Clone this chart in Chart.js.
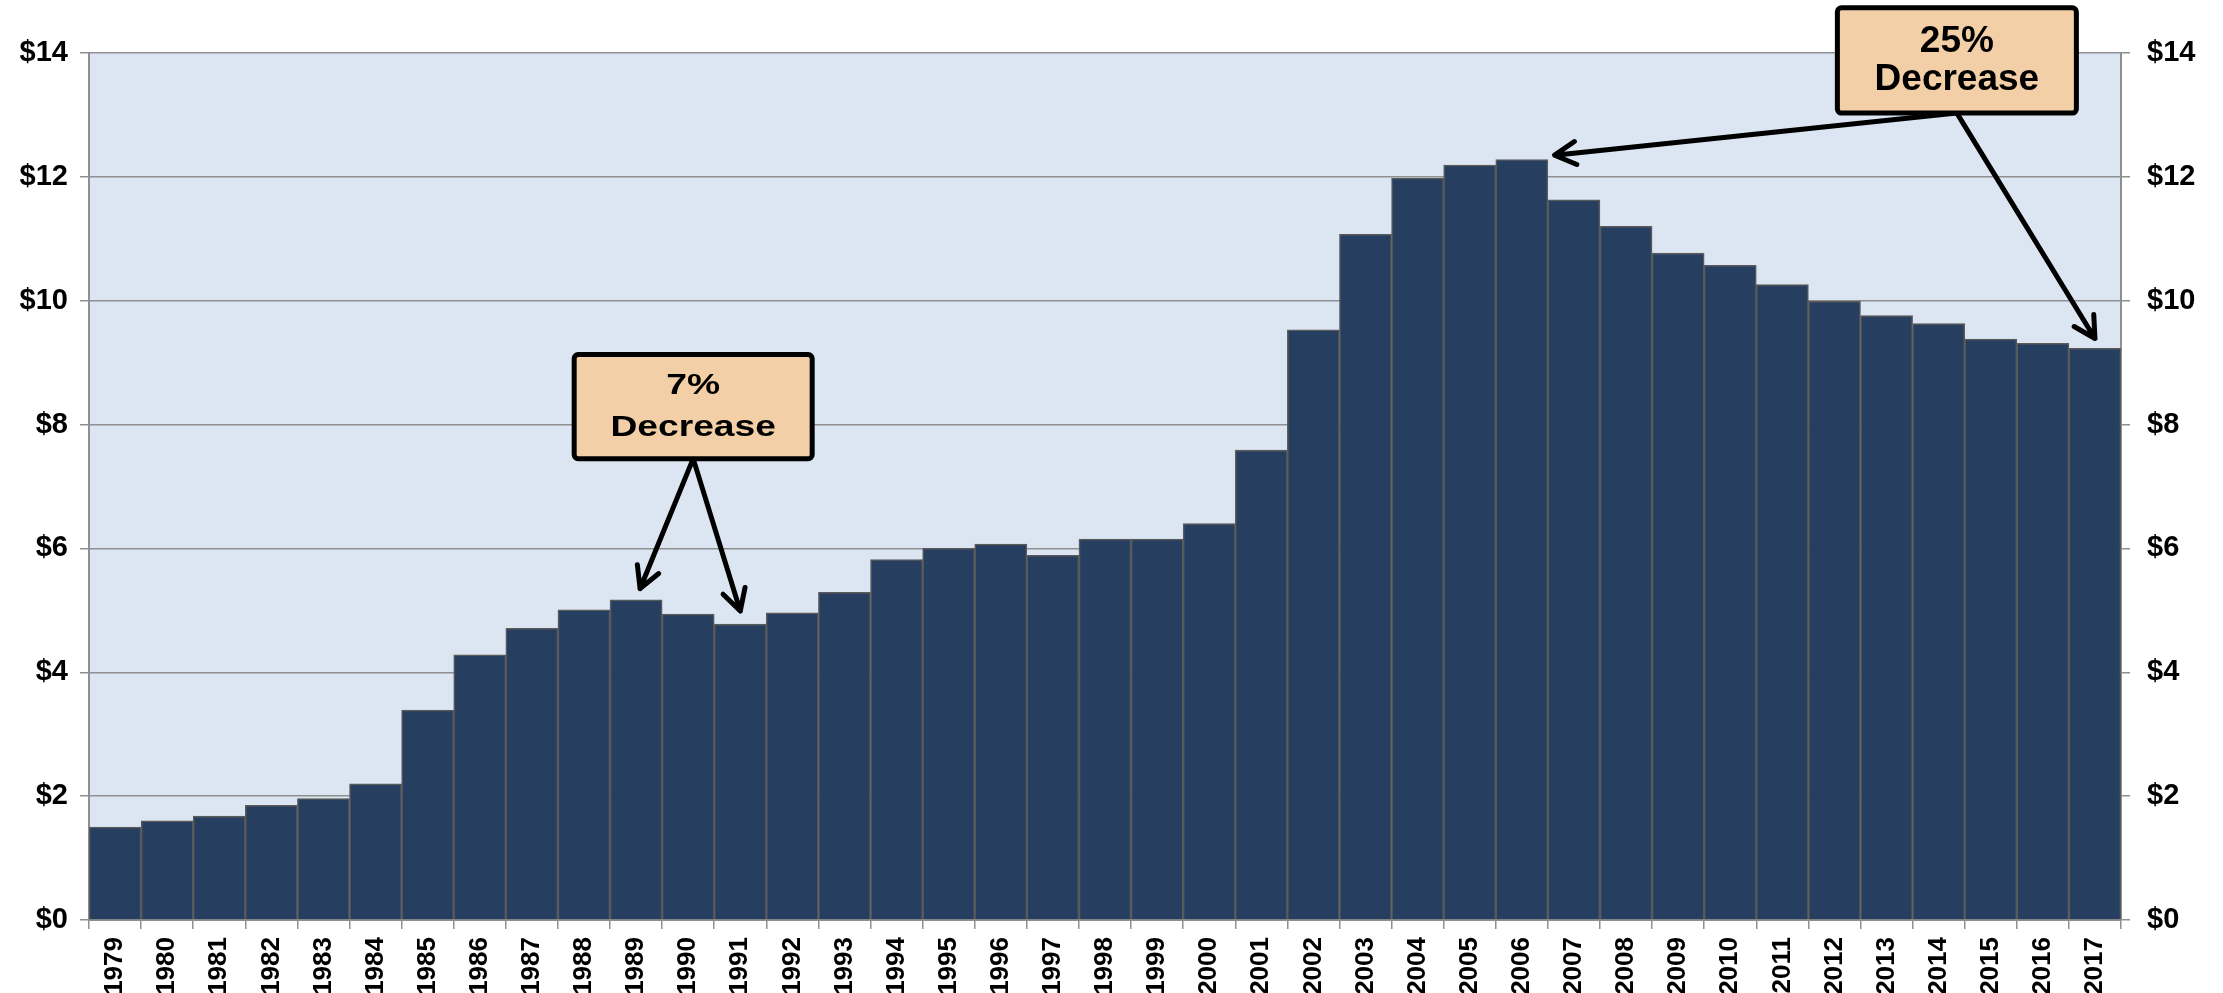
<!DOCTYPE html>
<html>
<head>
<meta charset="utf-8">
<script src="https://cdn.jsdelivr.net/npm/chart.js@4/dist/chart.umd.min.js"></script>
<style>
  html, body { margin: 0; padding: 0; background: #fff; overflow: hidden; }
  #wrap { width: 2223px; height: 993px; }
</style>
</head>
<body>
<div id="wrap"><canvas id="barChart" width="2223" height="993"></canvas></div>
<script>
const years = ['1979','1980','1981','1982','1983','1984','1985','1986','1987','1988',
    '1989','1990','1991','1992','1993','1994','1995','1996','1997','1998',
    '1999','2000','2001','2002','2003','2004','2005','2006','2007','2008',
    '2009','2010','2011','2012','2013','2014','2015','2016','2017'];

const values = [1.50, 1.60, 1.68, 1.85, 1.96, 2.20, 3.39, 4.28, 4.71, 5.01,
    5.17, 4.94, 4.78, 4.96, 5.29, 5.82, 6.00, 6.07, 5.89, 6.15,
    6.15, 6.40, 7.59, 9.53, 11.07, 11.98, 12.19, 12.28, 11.63, 11.20,
    10.77, 10.57, 10.26, 9.99, 9.76, 9.63, 9.38, 9.31, 9.23];

const yTicks = [0, 2, 4, 6, 8, 10, 12, 14];
const yTickLabels = ['$0', '$2', '$4', '$6', '$8', '$10', '$12', '$14'];

const noteSmallText = ['7%', 'Decrease'];
const noteBigText = ['25%', 'Decrease'];

const FONT = '"Liberation Sans", Arial, sans-serif';
const GRID = '#8f8f8f';

function tickLabel(value) {
    const i = yTicks.indexOf(value);
    return i >= 0 ? yTickLabels[i] : '';
}

// light blue plot background
const plotBackground = {
    id: 'plotBackground',
    beforeDraw(chart) {
        const { ctx, chartArea: a } = chart;
        ctx.save();
        ctx.fillStyle = '#dce6f2';
        ctx.fillRect(a.left, a.top, a.right - a.left, a.bottom - a.top);
        ctx.restore();
    }
};

function drawArrow(ctx, x0, y0, x1, y1) {
    const ang = Math.atan2(y1 - y0, x1 - x0);
    const head = 24;
    ctx.beginPath();
    ctx.moveTo(x0, y0);
    ctx.lineTo(x1, y1);
    ctx.moveTo(x1 - head * Math.cos(ang - 0.5), y1 - head * Math.sin(ang - 0.5));
    ctx.lineTo(x1, y1);
    ctx.lineTo(x1 - head * Math.cos(ang + 0.5), y1 - head * Math.sin(ang + 0.5));
    ctx.stroke();
}

function drawBox(ctx, cx, top, w, h, lines, fontSize, sx, lineYs) {
    ctx.fillStyle = '#f2cfa6';
    ctx.strokeStyle = '#000';
    ctx.lineWidth = 5;
    ctx.beginPath();
    ctx.roundRect(cx - w / 2, top, w, h, 4);
    ctx.fill();
    ctx.stroke();
    ctx.fillStyle = '#000';
    ctx.font = 'bold ' + fontSize + 'px ' + FONT;
    ctx.textAlign = 'center';
    ctx.textBaseline = 'middle';
    lines.forEach((t, i) => {
        ctx.save();
        ctx.translate(cx, top + lineYs[i]);
        ctx.scale(sx, 1);
        ctx.fillText(t, 0, 0);
        ctx.restore();
    });
}

const callouts = {
    id: 'callouts',
    afterDraw(chart) {
        const { ctx } = chart;
        const x = chart.scales.x;
        const y = chart.scales.y;
        ctx.save();
        ctx.lineCap = 'round';
        ctx.lineJoin = 'round';

        // 7% decrease, 1989 -> 1991
        const c1x = x.getPixelForValue(11) + 5;
        const c1top = y.getPixelForValue(9.13);
        const c1bottom = y.getPixelForValue(7.45);
        ctx.strokeStyle = '#000';
        ctx.lineWidth = 5;
        drawArrow(ctx, c1x, c1bottom, x.getPixelForValue(10) + 4, y.getPixelForValue(values[10] + 0.18));
        drawArrow(ctx, c1x, c1bottom, x.getPixelForValue(12), y.getPixelForValue(values[12] + 0.21));
        drawBox(ctx, c1x, c1top, 238, c1bottom - c1top, noteSmallText, 30, 1.24, [31, 73]);

        // 25% decrease, 2006 -> 2017
        const c2x = x.getPixelForValue(35.35);
        const c2top = y.getPixelForValue(14.73);
        const c2bottom = y.getPixelForValue(13.03);
        ctx.strokeStyle = '#000';
        ctx.lineWidth = 5;
        drawArrow(ctx, c2x, c2bottom, x.getPixelForValue(27.63), y.getPixelForValue(values[27] + 0.07));
        drawArrow(ctx, c2x, c2bottom, x.getPixelForValue(38), y.getPixelForValue(values[38] + 0.16));
        drawBox(ctx, c2x, c2top, 239, c2bottom - c2top, noteBigText, 37, 1.0, [34, 72]);
        ctx.restore();
    }
};

const tickFont = { family: FONT, size: 29, weight: 'bold' };

new Chart(document.getElementById('barChart'), {
    type: 'bar',
    data: {
        labels: years,
        datasets: [{
            data: values,
            backgroundColor: '#263f60',
            borderColor: '#5a5a5a',
            borderWidth: 1.5,
            barPercentage: 1,
            categoryPercentage: 1
        }]
    },
    options: {
        responsive: false,
        animation: false,
        layout: { padding: { top: 53, left: 0, right: 0, bottom: 0 } },
        plugins: {
            legend: { display: false },
            tooltip: { enabled: false }
        },
        scales: {
            x: {
                grid: { display: true, drawOnChartArea: false, drawTicks: true, tickLength: 9, color: GRID, lineWidth: 1.5, offset: true },
                border: { display: true, color: GRID, width: 2 },
                ticks: {
                    color: '#000',
                    font: { family: FONT, size: 26, weight: 'bold' },
                    minRotation: 90,
                    maxRotation: 90,
                    autoSkip: false,
                    padding: 8
                },
                afterFit(scale) { scale.height = 73; }
            },
            y: {
                position: 'left',
                min: 0,
                max: 14,
                afterBuildTicks(scale) { scale.ticks = yTicks.map(v => ({ value: v })); },
                grid: { color: GRID, lineWidth: 1.5, tickLength: 9 },
                border: { display: true, color: GRID, width: 2 },
                ticks: { color: '#000', font: tickFont, padding: 12, callback: tickLabel },
                afterFit(scale) { scale.width = 89; }
            },
            y2: {
                position: 'right',
                min: 0,
                max: 14,
                afterBuildTicks(scale) { scale.ticks = yTicks.map(v => ({ value: v })); },
                grid: { drawOnChartArea: false, color: GRID, lineWidth: 1.5, tickLength: 9 },
                border: { display: true, color: GRID, width: 2 },
                ticks: { color: '#000', font: tickFont, padding: 17, callback: tickLabel },
                afterFit(scale) { scale.width = 102; }
            }
        }
    },
    plugins: [plotBackground, callouts]
});
</script>
</body>
</html>
